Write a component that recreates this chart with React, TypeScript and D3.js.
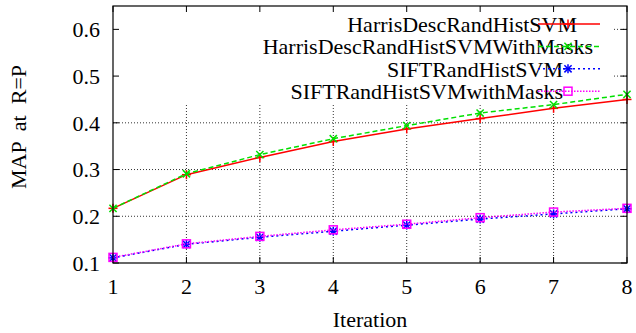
import { useEffect, useRef } from 'react';
import * as d3 from 'd3';

const iterations = [1, 2, 3, 4, 5, 6, 7, 8];
const harrisDesc = [0.217, 0.289, 0.326, 0.360, 0.387, 0.409, 0.431, 0.450];
const harrisDescMasks = [0.217, 0.291, 0.332, 0.366, 0.394, 0.421, 0.439, 0.461];
const siftRand = [0.111, 0.140, 0.155, 0.168, 0.181, 0.194, 0.205, 0.216];
const siftRandMasks = [0.112, 0.141, 0.157, 0.171, 0.183, 0.197, 0.209, 0.217];
const seriesNames = [
  'HarrisDescRandHistSVM',
  'HarrisDescRandHistSVMWithMasks',
  'SIFTRandHistSVM',
  'SIFTRandHistSVMwithMasks',
];
const yTicks = [0.1, 0.2, 0.3, 0.4, 0.5, 0.6];

export default function App() {
  const svgRef = useRef<SVGSVGElement>(null);

  useEffect(() => {
    if (!svgRef.current) return;
    const width = 636, height = 333;
    const margin = { top: 6, right: 9, bottom: 70, left: 113 };
    const innerW = width - margin.left - margin.right;
    const innerH = height - margin.top - margin.bottom;
    const font = '"Liberation Serif", "Times New Roman", serif';

    const svg = d3.select(svgRef.current);
    svg.selectAll('*').remove();
    svg.attr('width', width).attr('height', height);
    const g = svg.append('g').attr('transform', 'translate(' + margin.left + ',' + margin.top + ')');

    const x = d3.scaleLinear().domain([1, 8]).range([0, innerW]);
    const y = d3.scaleLinear().domain([0.1, 0.65]).range([innerH, 0]);

    // grid
    const grid = g.append('g').attr('stroke', '#333').attr('stroke-width', 1).attr('stroke-dasharray', '1,2');
    iterations.slice(1, -1).forEach(v => {
      grid.append('line').attr('x1', x(v)).attr('x2', x(v)).attr('y1', 0).attr('y2', innerH);
    });
    yTicks.slice(1).forEach(v => {
      grid.append('line').attr('x1', 0).attr('x2', innerW).attr('y1', y(v)).attr('y2', y(v));
    });

    // opaque key area hides the grid
    g.append('rect').attr('x', 0).attr('y', 0).attr('width', 500).attr('height', 97).attr('fill', '#fff');

    // ticks (inward, mirrored)
    const tk = g.append('g').attr('stroke', '#000').attr('stroke-width', 1);
    const tl = 6;
    iterations.forEach(v => {
      tk.append('line').attr('x1', x(v)).attr('x2', x(v)).attr('y1', innerH).attr('y2', innerH - tl);
      tk.append('line').attr('x1', x(v)).attr('x2', x(v)).attr('y1', 0).attr('y2', tl);
    });
    yTicks.forEach(v => {
      tk.append('line').attr('x1', 0).attr('x2', tl).attr('y1', y(v)).attr('y2', y(v));
      tk.append('line').attr('x1', innerW).attr('x2', innerW - tl).attr('y1', y(v)).attr('y2', y(v));
    });

    // tick labels
    iterations.forEach(v => {
      g.append('text').attr('x', x(v)).attr('y', innerH + 31).attr('text-anchor', 'middle')
        .attr('font-family', font).attr('font-size', 22).attr('fill', '#000').text(String(v));
    });
    yTicks.forEach(v => {
      g.append('text').attr('x', -13).attr('y', y(v)).attr('dy', '0.36em').attr('text-anchor', 'end')
        .attr('font-family', font).attr('font-size', 22).attr('fill', '#000').text(v.toFixed(1));
    });

    // axis titles
    svg.append('text').attr('x', 370).attr('y', 327).attr('text-anchor', 'middle')
      .attr('font-family', font).attr('font-size', 22).attr('fill', '#000').text('Iteration');
    svg.append('text').attr('transform', 'translate(26,127) rotate(-90)').attr('text-anchor', 'middle')
      .attr('font-family', font).attr('font-size', 22).attr('fill', '#000')
      .style('white-space', 'pre').text('MAP  at  R=P');

    const styles = [
      { color: '#ff0000', dash: null, marker: 'plus' },
      { color: '#00e000', dash: '5,3', marker: 'cross' },
      { color: '#0000ff', dash: '2,3', marker: 'star' },
      { color: '#ff00ff', dash: '1.5,1.5', marker: 'square' },
    ];
    const allSeries = [harrisDesc, harrisDescMasks, siftRand, siftRandMasks];

    const drawMarker = (sel: d3.Selection<SVGGElement, unknown, null, undefined>, kind: string, cx: number, cy: number, color: string) => {
      const s = 4.5;
      const m = sel.append('g').attr('stroke', color).attr('stroke-width', 1.5).attr('fill', 'none');
      if (kind === 'plus' || kind === 'star') {
        m.append('line').attr('x1', cx - s).attr('x2', cx + s).attr('y1', cy).attr('y2', cy);
        m.append('line').attr('x1', cx).attr('x2', cx).attr('y1', cy - s).attr('y2', cy + s);
      }
      if (kind === 'cross' || kind === 'star') {
        m.append('line').attr('x1', cx - s * 0.8).attr('x2', cx + s * 0.8).attr('y1', cy - s * 0.8).attr('y2', cy + s * 0.8);
        m.append('line').attr('x1', cx - s * 0.8).attr('x2', cx + s * 0.8).attr('y1', cy + s * 0.8).attr('y2', cy - s * 0.8);
      }
      if (kind === 'square') {
        m.append('rect').attr('x', cx - 4).attr('y', cy - 4).attr('width', 8).attr('height', 8);
      }
    };

    const line = d3.line<number>().x((_, i) => x(iterations[i])).y(d => y(d));
    allSeries.forEach((vals, si) => {
      const st = styles[si];
      g.append('path').datum(vals).attr('d', line).attr('fill', 'none')
        .attr('stroke', st.color).attr('stroke-width', 1.5)
        .attr('stroke-dasharray', st.dash);
      const mg = g.append('g');
      vals.forEach((v, i) => drawMarker(mg, st.marker, x(iterations[i]), y(v), st.color));
    });

    // legend
    const textEnds = [577, 593, 563, 563];
    const legend = svg.append('g');
    seriesNames.forEach((name, i) => {
      const ly = 24 + i * 22.4;
      legend.append('text').attr('x', textEnds[i]).attr('y', ly).attr('dy', '0.35em').attr('text-anchor', 'end')
        .attr('font-family', font).attr('font-size', 22).attr('fill', '#000').text(name);
      legend.append('line').attr('x1', 538).attr('x2', 600).attr('y1', ly).attr('y2', ly)
        .attr('stroke', styles[i].color).attr('stroke-width', 1.5).attr('stroke-dasharray', styles[i].dash);
      drawMarker(legend, styles[i].marker, 568, ly, styles[i].color);
    });

    // frame
    g.append('rect').attr('x', 0).attr('y', 0).attr('width', innerW).attr('height', innerH)
      .attr('fill', 'none').attr('stroke', '#000').attr('stroke-width', 1.2);
  }, []);

  return (
    <div style={{ position: 'absolute', left: 0, top: 0 }}>
      <svg ref={svgRef}></svg>
    </div>
  );
}
